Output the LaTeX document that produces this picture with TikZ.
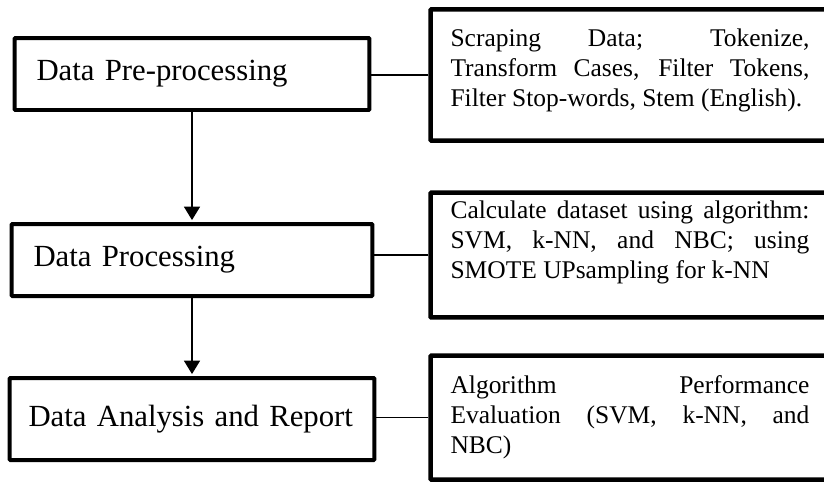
\documentclass[tikz,border=0pt]{standalone}
\usepackage{fontspec}
\setmainfont{Liberation Serif}
\usepackage{tikz}
\usetikzlibrary{arrows.meta,positioning}
\setlength{\parindent}{0pt}
\tikzstyle{stage} = [rectangle, draw=black, line width=0.08cm, rounded corners=0.5pt, align=left, inner xsep=0.44cm, minimum height=1.44cm, font=\fontsize{17.5pt}{21pt}\selectfont]
\tikzstyle{info} = [rectangle, draw=black, line width=0.09cm, rounded corners=0.5pt, align=justify, text width=7.18cm, inner xsep=0.4cm, font=\fontsize{14.5pt}{17.1pt}\selectfont]
\tikzstyle{arrow} = [line width=1pt, shorten >=1.1pt, -{Triangle[length=0.27cm,width=0.32cm]}]
\tikzstyle{link} = [line width=1pt]
% empty space kept under the text, lifts it inside its box
\newcommand{\liftby}[1]{\par\vspace{#1}\hrule height 0pt}

\begin{document}
\begin{tikzpicture}[x=0.02cm, y=-0.02cm]
    \useasboundingbox (0,0) rectangle (824,481);
    \clip (0,0) rectangle (824,481);

    % Stages
    \node[stage, text width=6.22cm] (pre) at (192,74) {Data Pre-processing};
    \node[stage, text width=6.34cm] (proc) at (192,260) {Data Processing};
    \node[stage, text width=6.54cm, inner xsep=0.38cm, minimum height=1.64cm] (anal) at (192,419) {\mbox{Data Analysis and Report}};

    % Details of each stage
    \node[info, minimum height=2.63cm] (preinfo) at (630,75) {Scraping Data; Tokenize,\linebreak Transform Cases, Filter Tokens,\linebreak Filter Stop-words, Stem (English).\liftby{0.2cm}};
    \node[info, minimum height=2.5cm] (procinfo) at (630,255) {Calculate dataset using algorithm:\linebreak SVM, k-NN, and NBC; using\linebreak SMOTE UPsampling for k-NN\liftby{0.52cm}};
    \node[info, minimum height=2.48cm] (analinfo) at (630,417.5) {Algorithm Performance\linebreak Evaluation (SVM, k-NN, and\linebreak NBC)};

    % Flow
    \draw[arrow] (pre) -- (proc);
    \draw[arrow] (proc) -- (anal);

    % Links to details
    \draw[link] (preinfo.west) -- (preinfo.west -| pre.east);
    \draw[link] (procinfo.west) -- (procinfo.west -| proc.east);
    \draw[link] (analinfo.west) -- (analinfo.west -| anal.east);
\end{tikzpicture}
\end{document}
